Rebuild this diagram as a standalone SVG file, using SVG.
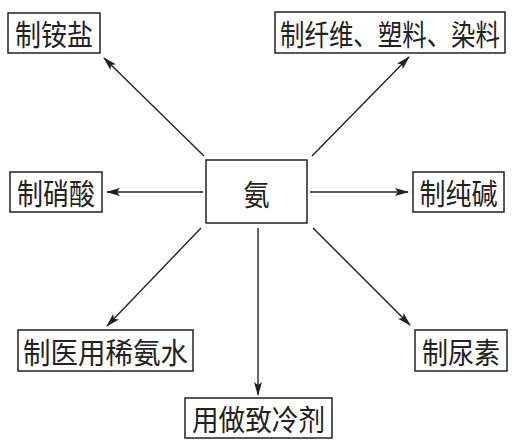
<svg xmlns="http://www.w3.org/2000/svg" width="516" height="443" viewBox="0 0 516 443">
<defs>
<marker id="arr" viewBox="0 0 14 8" refX="13" refY="4" markerWidth="14" markerHeight="8" markerUnits="userSpaceOnUse" orient="auto">
<path d="M0,0 L14,4 L0,8 L3,4 Z" fill="#222"/>
</marker>
</defs>
<style>
.box{fill:#fff;stroke:#222;stroke-width:1.5}
.t{font-family:"Noto Sans CJK SC","Noto Sans CJK TC",sans-serif;font-size:26px;fill:#222;text-anchor:middle;dominant-baseline:central}
.c{stroke:#222;stroke-width:1.4;fill:none;marker-end:url(#arr)}
</style>
<rect width="516" height="443" fill="#fff"/>
<g id="connectors">
<line class="c" x1="204" y1="156" x2="104" y2="58"/>
<line class="c" x1="312" y1="156" x2="409" y2="57"/>
<line class="c" x1="203" y1="192" x2="107" y2="192"/>
<line class="c" x1="310" y1="192" x2="408" y2="192"/>
<line class="c" x1="201" y1="228" x2="107" y2="326"/>
<line class="c" x1="313" y1="228" x2="410" y2="325"/>
<line class="c" x1="258" y1="228" x2="258" y2="395"/>
</g>
<g id="n-center"><rect class="box" x="206" y="160" width="101" height="63"/><text class="t" transform="translate(256.5,193) scale(1,1.12)">氨</text></g>
<g id="n-anyan"><rect class="box" x="8" y="13" width="92" height="40"/><text class="t" transform="translate(54,33.5) scale(1,1.12)">制铵盐</text></g>
<g id="n-xianwei"><rect class="box" x="275" y="12" width="230" height="41"/><text class="t" transform="translate(390,33) scale(1,1.12)" textLength="220" lengthAdjust="spacingAndGlyphs">制纤维、塑料、染料</text></g>
<g id="n-xiaosuan"><rect class="box" x="10" y="172" width="92" height="40"/><text class="t" transform="translate(56,192.5) scale(1,1.12)">制硝酸</text></g>
<g id="n-chunjian"><rect class="box" x="413" y="172" width="91" height="40"/><text class="t" transform="translate(458.5,192.5) scale(1,1.12)">制纯碱</text></g>
<g id="n-anshui"><rect class="box" x="18" y="330" width="175" height="41"/><text class="t" transform="translate(105.5,351) scale(1,1.12)" textLength="165" lengthAdjust="spacingAndGlyphs">制医用稀氨水</text></g>
<g id="n-niaosu"><rect class="box" x="415" y="330" width="92" height="41"/><text class="t" transform="translate(461,351) scale(1,1.12)">制尿素</text></g>
<g id="n-zhilengji"><rect class="box" x="185" y="398" width="147" height="40"/><text class="t" transform="translate(258.5,418.5) scale(1,1.12)" textLength="133" lengthAdjust="spacingAndGlyphs">用做致冷剂</text></g>
</svg>
